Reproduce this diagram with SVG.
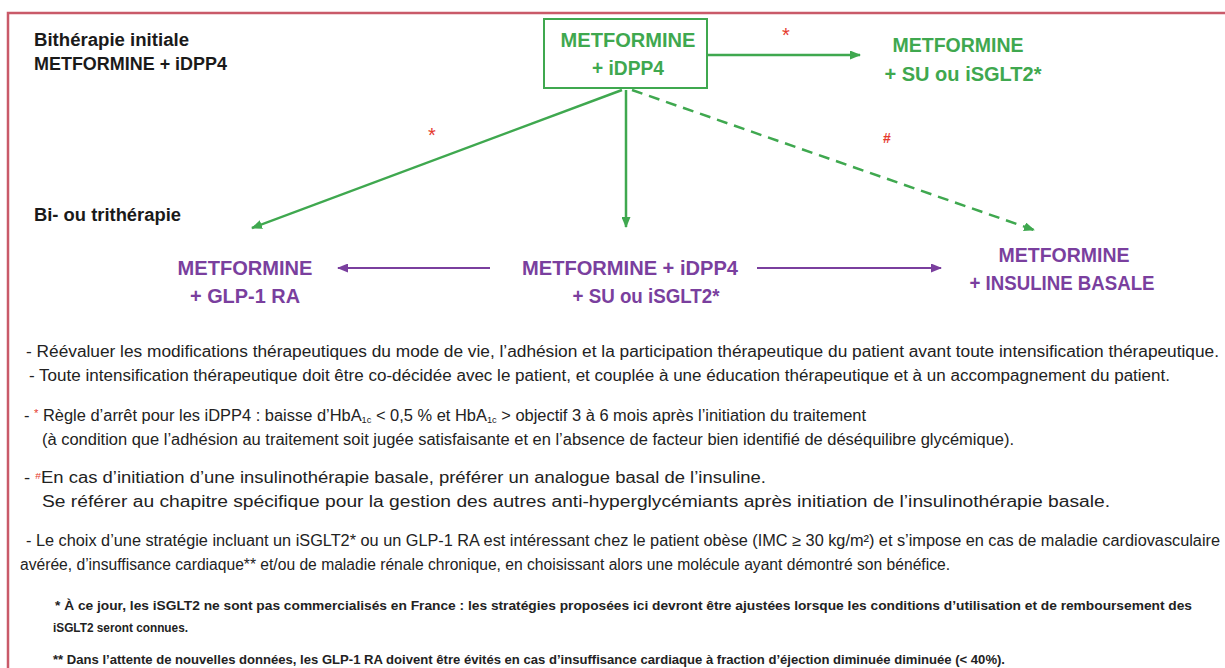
<svg xmlns="http://www.w3.org/2000/svg" width="1225" height="668" viewBox="0 0 1225 668">
<defs>
<marker id="ag" markerUnits="userSpaceOnUse" markerWidth="11" markerHeight="9" refX="10" refY="4.5" orient="auto"><path d="M0,0 L11,4.5 L0,9 z" fill="#3fa84f"/></marker>
<marker id="ap" markerUnits="userSpaceOnUse" markerWidth="11" markerHeight="9" refX="10" refY="4.5" orient="auto"><path d="M0,0 L11,4.5 L0,9 z" fill="#7a3f9e"/></marker>
</defs>
<style>
.t{font-family:"Liberation Sans",Arial,sans-serif;}
.h{font-weight:bold;font-size:18px;fill:#1a1a1a;}
.g{font-weight:bold;font-size:20px;fill:#3fa84f;}
.p{font-weight:bold;font-size:20px;fill:#7a3f9e;}
.n{font-size:16px;fill:#222;}
.f{font-size:13px;font-weight:bold;fill:#222;}
.r{fill:#e53a2e;}
.lg{stroke:#3fa84f;stroke-width:2.5;fill:none;}
.lp{stroke:#7a3f9e;stroke-width:2;fill:none;}
</style>
<rect width="1225" height="668" fill="#fff"/>
<rect x="8" y="13" width="1240" height="700" fill="none" stroke="#c95a69" stroke-width="2.5"/>

<g id="label-initial" class="t h">
<text x="34" y="46" textLength="155" lengthAdjust="spacingAndGlyphs">Bithérapie initiale</text>
<text x="34" y="70" textLength="193" lengthAdjust="spacingAndGlyphs">METFORMINE + iDPP4</text>
</g>
<g id="label-bitri" class="t h">
<text x="34" y="221" textLength="147" lengthAdjust="spacingAndGlyphs">Bi- ou trithérapie</text>
</g>

<g id="n-box">
<rect x="544" y="19" width="163" height="69" fill="none" stroke="#3fa84f" stroke-width="2"/>
<text class="t g" x="628" y="47" text-anchor="middle" textLength="135" lengthAdjust="spacingAndGlyphs">METFORMINE</text>
<text class="t g" x="628" y="75" text-anchor="middle" textLength="72" lengthAdjust="spacingAndGlyphs">+ iDPP4</text>
</g>
<g id="n-top-right">
<text class="t g" x="958" y="52" text-anchor="middle" textLength="131" lengthAdjust="spacingAndGlyphs">METFORMINE</text>
<text class="t g" x="963" y="81" text-anchor="middle" textLength="157" lengthAdjust="spacingAndGlyphs">+ SU ou iSGLT2*</text>
</g>
<g id="n-left">
<text class="t p" x="245" y="275" text-anchor="middle" textLength="135" lengthAdjust="spacingAndGlyphs">METFORMINE</text>
<text class="t p" x="245" y="303" text-anchor="middle" textLength="110" lengthAdjust="spacingAndGlyphs">+ GLP-1 RA</text>
</g>
<g id="n-center">
<text class="t p" x="630" y="275" text-anchor="middle" textLength="216" lengthAdjust="spacingAndGlyphs">METFORMINE + iDPP4</text>
<text class="t p" x="646" y="303" text-anchor="middle" textLength="147" lengthAdjust="spacingAndGlyphs">+ SU ou iSGLT2*</text>
</g>
<g id="n-right">
<text class="t p" x="1064" y="262" text-anchor="middle" textLength="131" lengthAdjust="spacingAndGlyphs">METFORMINE</text>
<text class="t p" x="1062" y="290" text-anchor="middle" textLength="185" lengthAdjust="spacingAndGlyphs">+ INSULINE BASALE</text>
</g>

<g id="connectors">
<line class="lg" x1="707" y1="55" x2="860" y2="55" marker-end="url(#ag)"/>
<line class="lg" x1="622" y1="90" x2="252" y2="228" marker-end="url(#ag)"/>
<line class="lg" x1="626" y1="90" x2="626" y2="227" marker-end="url(#ag)"/>
<line class="lg" x1="632" y1="90" x2="1034" y2="230" stroke-width="3" stroke-dasharray="11 7" marker-end="url(#ag)"/>
<line class="lp" x1="490" y1="268" x2="338" y2="268" marker-end="url(#ap)"/>
<line class="lp" x1="757" y1="268" x2="941" y2="268" marker-end="url(#ap)"/>
<text class="t r" x="786" y="42" font-size="20" text-anchor="middle">*</text>
<text class="t r" x="432" y="142" font-size="20" text-anchor="middle">*</text>
<text class="t r" x="887" y="143" font-size="14" font-weight="bold" text-anchor="middle">#</text>
</g>

<g id="notes" class="t n">
<text x="26" y="357" textLength="1193" lengthAdjust="spacingAndGlyphs">- Réévaluer les modifications thérapeutiques du mode de vie, l’adhésion et la participation thérapeutique du patient avant toute intensification thérapeutique.</text>
<text x="29" y="381" textLength="1141" lengthAdjust="spacingAndGlyphs">- Toute intensification thérapeutique doit être co-décidée avec le patient, et couplée à une éducation thérapeutique et à un accompagnement du patient.</text>
<text x="24" y="421" textLength="842" lengthAdjust="spacingAndGlyphs">- <tspan class="r" font-size="11" baseline-shift="4">*</tspan> Règle d’arrêt pour les iDPP4 : baisse d’HbA<tspan font-size="9" baseline-shift="-2">1c</tspan> &lt; 0,5 % et HbA<tspan font-size="9" baseline-shift="-2">1c</tspan> &gt; objectif 3 à 6 mois après l’initiation du traitement</text>
<text x="42" y="445" textLength="972" lengthAdjust="spacingAndGlyphs">(à condition que l’adhésion au traitement soit jugée satisfaisante et en l’absence de facteur bien identifié de déséquilibre glycémique).</text>
<text x="24" y="483" textLength="742" lengthAdjust="spacingAndGlyphs">- <tspan class="r" font-size="9" baseline-shift="4">#</tspan>En cas d’initiation d’une insulinothérapie basale, préférer un analogue basal de l’insuline.</text>
<text x="42" y="507" textLength="1068" lengthAdjust="spacingAndGlyphs">Se référer au chapitre spécifique pour la gestion des autres anti-hyperglycémiants après initiation de l’insulinothérapie basale.</text>
<text x="26" y="546" textLength="1194" lengthAdjust="spacingAndGlyphs">- Le choix d’une stratégie incluant un iSGLT2* ou un GLP-1 RA est intéressant chez le patient obèse (IMC ≥ 30 kg/m²) et s’impose en cas de maladie cardiovasculaire</text>
<text x="20" y="570" textLength="930" lengthAdjust="spacingAndGlyphs">avérée, d’insuffisance cardiaque** et/ou de maladie rénale chronique, en choisissant alors une molécule ayant démontré son bénéfice.</text>
</g>
<g id="footnotes" class="t f">
<text x="55" y="610" textLength="1137" lengthAdjust="spacingAndGlyphs">* À ce jour, les iSGLT2 ne sont pas commercialisés en France : les stratégies proposées ici devront être ajustées lorsque les conditions d’utilisation et de remboursement des</text>
<text x="53" y="632" textLength="135" lengthAdjust="spacingAndGlyphs">iSGLT2 seront connues.</text>
<text x="53" y="664" textLength="952" lengthAdjust="spacingAndGlyphs">** Dans l’attente de nouvelles données, les GLP-1 RA doivent être évités en cas d’insuffisance cardiaque à fraction d’éjection diminuée diminuée (&lt; 40%).</text>
</g>
</svg>
